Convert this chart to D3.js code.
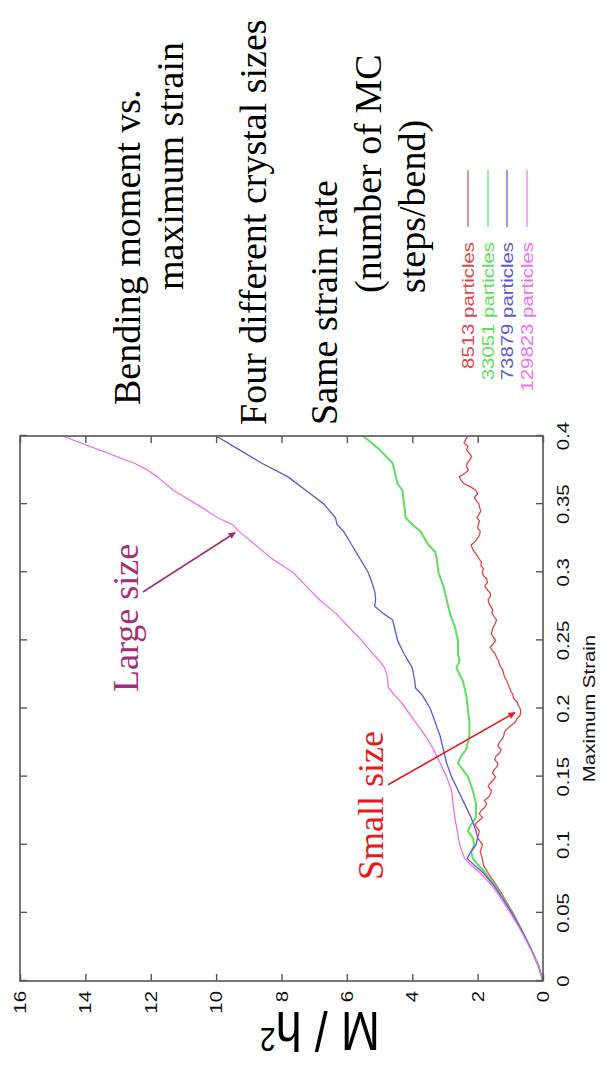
<!DOCTYPE html>
<html>
<head>
<meta charset="utf-8">
<script src="https://cdn.jsdelivr.net/npm/d3@7"></script>
<style>
  html, body { margin: 0; padding: 0; background: #fff; }
  svg { display: block; }
</style>
</head>
<body>
<svg id="slide" width="600" height="1067"></svg>
<script>
// ---- data: bending moment M/h^2 versus maximum strain, four crystal sizes ----
const seriesNames = ["8513 particles", "33051 particles", "73879 particles", "129823 particles"];
const seriesColors = ["#e04848", "#5ee05e", "#5858dc", "#f070f0"];

const strainTicks = [0, 0.05, 0.1, 0.15, 0.2, 0.25, 0.3, 0.35, 0.4];
const strainTickLabels = ["0", "0.05", "0.1", "0.15", "0.2", "0.25", "0.3", "0.35", "0.4"];
const momentTicks = [0, 2, 4, 6, 8, 10, 12, 14, 16];

// 8513 particles
const strain8513 = [0, 0.01, 0.02, 0.03, 0.04, 0.05, 0.06, 0.07, 0.08, 0.085, 0.09, 0.095, 0.1, 0.105, 0.11, 0.115,
  0.12, 0.1225, 0.125, 0.1275, 0.13, 0.1325, 0.135, 0.1375, 0.14, 0.1425, 0.145, 0.1475,
  0.15, 0.1525, 0.155, 0.1575, 0.16, 0.1625, 0.165, 0.1675, 0.17, 0.1725, 0.175, 0.1775,
  0.18, 0.1825, 0.185, 0.1875, 0.19, 0.1925, 0.195, 0.1975, 0.2, 0.2025, 0.205, 0.2075,
  0.21, 0.2125, 0.215, 0.2175, 0.22, 0.2225, 0.225, 0.2275, 0.23, 0.2325, 0.235, 0.2375,
  0.24, 0.2425, 0.245, 0.2475, 0.25, 0.2525, 0.255, 0.2575, 0.26, 0.2625, 0.265, 0.2675,
  0.27, 0.2725, 0.275, 0.2775, 0.28, 0.2825, 0.285, 0.2875, 0.29, 0.2925, 0.295, 0.2975,
  0.3, 0.3025, 0.305, 0.3075, 0.31, 0.3125, 0.315, 0.3175, 0.32, 0.3225, 0.325, 0.3275,
  0.33, 0.3325, 0.335, 0.3375, 0.34, 0.3425, 0.345, 0.3475, 0.35, 0.3525, 0.355, 0.3575,
  0.36, 0.3625, 0.365, 0.3675, 0.37, 0.3725, 0.375, 0.3775, 0.38, 0.3825, 0.385, 0.3875,
  0.39, 0.3925, 0.395, 0.3975, 0.4];
const moment8513 = [0, 0.12, 0.3, 0.5, 0.7, 0.92, 1.16, 1.42, 1.7, 1.82, 1.86, 1.92, 1.85, 2.0, 1.95, 2.08,
  1.85, 1.95, 1.9, 1.78, 1.72, 1.8, 1.66, 1.6, 1.58, 1.68, 1.62, 1.52,
  1.45, 1.55, 1.5, 1.4, 1.38, 1.48, 1.44, 1.32, 1.28, 1.38, 1.34, 1.25,
  1.2, 1.18, 1.1, 0.98, 0.85, 0.8, 0.7, 0.68, 0.7, 0.76, 0.8, 0.9,
  0.92, 0.98, 1.02, 1.06, 1.1, 1.16, 1.2, 1.22, 1.28, 1.34, 1.36, 1.42,
  1.46, 1.55, 1.62, 1.52, 1.45, 1.52, 1.58, 1.55, 1.52, 1.46, 1.42, 1.5,
  1.56, 1.54, 1.6, 1.66, 1.68, 1.6, 1.62, 1.72, 1.78, 1.7, 1.72, 1.82,
  1.86, 1.82, 1.9, 1.88, 1.96, 2.02, 2.1, 2.16, 2.2, 2.08, 2.0, 1.94,
  1.92, 2.0, 1.98, 1.94, 2.02, 1.96, 1.9, 1.94, 1.96, 2.04, 2.1, 2.0,
  2.05, 2.2, 2.42, 2.5, 2.56, 2.4, 2.28, 2.34, 2.32, 2.24, 2.18, 2.26,
  2.34, 2.3, 2.42, 2.36, 2.3];

// 33051 particles
const strain33051 = [0, 0.01, 0.02, 0.03, 0.04, 0.05, 0.06, 0.07, 0.08, 0.085, 0.09, 0.095, 0.1, 0.105, 0.11, 0.115,
  0.12, 0.13, 0.14, 0.15, 0.155, 0.16, 0.165, 0.17, 0.18, 0.19, 0.2, 0.21, 0.22, 0.225, 0.23, 0.235,
  0.24, 0.25, 0.26, 0.27, 0.28, 0.29, 0.3, 0.31, 0.315, 0.32, 0.33, 0.335, 0.34, 0.35, 0.36, 0.365,
  0.37, 0.375, 0.38, 0.39, 0.395, 0.4];
const moment33051 = [0, 0.12, 0.3, 0.5, 0.72, 0.95, 1.2, 1.47, 1.78, 1.98, 2.15, 2.2, 2.1, 2.15, 2.3, 2.2,
  2.05, 2.05, 2.15, 2.3, 2.45, 2.6, 2.5, 2.35, 2.25, 2.25, 2.3, 2.35, 2.45, 2.55, 2.65, 2.55,
  2.6, 2.6, 2.7, 2.85, 2.95, 3.05, 3.2, 3.25, 3.3, 3.5, 3.75, 4.0, 4.2, 4.25, 4.3, 4.45,
  4.5, 4.55, 4.6, 5.0, 5.25, 5.5];

// 73879 particles
const strain73879 = [0, 0.01, 0.02, 0.03, 0.04, 0.05, 0.06, 0.07, 0.08, 0.085, 0.09, 0.095, 0.1, 0.105, 0.11, 0.12,
  0.13, 0.14, 0.15, 0.16, 0.17, 0.18, 0.19, 0.2, 0.21, 0.215, 0.22, 0.23, 0.24, 0.25, 0.26, 0.265,
  0.27, 0.275, 0.28, 0.285, 0.29, 0.3, 0.31, 0.32, 0.33, 0.335, 0.34, 0.35, 0.36, 0.37, 0.38, 0.39, 0.4];
const moment73879 = [0, 0.12, 0.3, 0.5, 0.72, 0.96, 1.22, 1.5, 1.85, 2.1, 2.32, 2.2, 2.05, 2.0, 2.05, 2.2,
  2.4, 2.6, 2.8, 2.95, 3.05, 3.15, 3.3, 3.45, 3.7, 3.9, 3.92, 4.0, 4.25, 4.45, 4.55, 4.6,
  4.9, 5.15, 5.12, 5.14, 5.2, 5.35, 5.6, 5.85, 6.1, 6.3, 6.35, 6.7, 7.25, 7.8, 8.6, 9.3, 10.0];

// 129823 particles
const strain129823 = [0, 0.01, 0.02, 0.03, 0.04, 0.05, 0.06, 0.07, 0.08, 0.085, 0.09, 0.1, 0.11, 0.12, 0.13, 0.14,
  0.15, 0.16, 0.17, 0.18, 0.19, 0.2, 0.205, 0.21, 0.215, 0.22, 0.225, 0.23, 0.235, 0.24, 0.25, 0.26,
  0.27, 0.28, 0.29, 0.3, 0.31, 0.32, 0.33, 0.335, 0.34, 0.35, 0.36, 0.37, 0.375, 0.38, 0.39, 0.4];
const moment129823 = [0, 0.12, 0.3, 0.52, 0.75, 1.0, 1.27, 1.56, 1.95, 2.2, 2.4, 2.55, 2.62, 2.7, 2.75, 2.8,
  2.95, 3.15, 3.35, 3.6, 3.9, 4.2, 4.35, 4.55, 4.72, 4.75, 4.78, 4.85, 5.0, 5.2, 5.55, 5.95,
  6.35, 6.85, 7.25, 7.65, 8.3, 8.8, 9.3, 9.5, 9.95, 10.6, 11.3, 11.8, 12.1, 12.5, 13.6, 14.7];

const seriesStrain = [strain8513, strain33051, strain73879, strain129823];
const seriesMoment = [moment8513, moment33051, moment73879, moment129823];

// annotation arrows, in data units: [strain, moment] tail -> head
const largeArrow = [[0.2855, 12.24], [0.329, 9.42]];
const smallArrow = [[0.144, 4.74], [0.197, 0.86]];

// ---- layout (slide is drawn landscape, then turned a quarter turn) ----
const svg = d3.select("#slide");
svg.append("rect").attr("width", 600).attr("height", 1067).attr("fill", "#fff");
const slide = svg.append("g").attr("transform", "translate(0,1067) rotate(-90)");

const plot = { left: 86, right: 631, top: 20, bottom: 543 };
const x = d3.scaleLinear().domain([0, 0.4]).range([plot.left, plot.right]);
const y = d3.scaleLinear().domain([0, 16]).range([plot.bottom, plot.top]);
const stretch = 1.2;       // horizontal stretch of the plot's sans-serif text
const axisFont = "'Liberation Sans', Arial, Helvetica, sans-serif";
const serifFont = "'Liberation Serif', 'Times New Roman', serif";
const frameColor = "#555";

// curves
const line = d3.line().x(d => x(d[0])).y(d => y(d[1]));
const curves = slide.append("g").attr("fill", "none").attr("stroke-linejoin", "round");
seriesNames.forEach((name, i) => {
  const pts = seriesStrain[i].map((s, k) => [s, seriesMoment[i][k]]);
  curves.append("path")
    .attr("d", line(pts))
    .attr("stroke", seriesColors[i])
    .attr("stroke-width", i === 1 ? 2 : 1.3);
});

// ticks on all four sides, pointing inward
const tickLen = 7;
slide.append("g").attr("transform", `translate(0,${plot.bottom})`)
  .call(d3.axisBottom(x).tickValues(strainTicks).tickSizeInner(-tickLen).tickSizeOuter(0).tickFormat(""))
  .call(g => g.select(".domain").remove());
slide.append("g").attr("transform", `translate(0,${plot.top})`)
  .call(d3.axisTop(x).tickValues(strainTicks).tickSizeInner(-tickLen).tickSizeOuter(0).tickFormat(""))
  .call(g => g.select(".domain").remove());
slide.append("g").attr("transform", `translate(${plot.left},0)`)
  .call(d3.axisLeft(y).tickValues(momentTicks).tickSizeInner(-tickLen).tickSizeOuter(0).tickFormat(""))
  .call(g => g.select(".domain").remove());
slide.append("g").attr("transform", `translate(${plot.right},0)`)
  .call(d3.axisRight(y).tickValues(momentTicks).tickSizeInner(-tickLen).tickSizeOuter(0).tickFormat(""))
  .call(g => g.select(".domain").remove());
slide.selectAll(".tick line").attr("stroke", frameColor).attr("stroke-width", 1.4);

// frame
slide.append("rect")
  .attr("x", plot.left).attr("y", plot.top)
  .attr("width", plot.right - plot.left).attr("height", plot.bottom - plot.top)
  .attr("fill", "none").attr("stroke", frameColor).attr("stroke-width", 1.6);

// tick labels
slide.append("g").selectAll("text").data(strainTicks).join("text")
  .attr("transform", d => `translate(${x(d)},${plot.bottom + 26}) scale(${stretch},1)`)
  .attr("text-anchor", "middle")
  .attr("font-family", axisFont).attr("font-size", 17).attr("fill", "#111")
  .text((d, i) => strainTickLabels[i]);

slide.append("g").selectAll("text").data(momentTicks).join("text")
  .attr("transform", d => `translate(${plot.left - 10},${y(d) + 6}) scale(${stretch},1)`)
  .attr("text-anchor", "end")
  .attr("font-family", axisFont).attr("font-size", 17).attr("fill", "#111")
  .text(d => d);

// axis titles
slide.append("text")
  .attr("transform", `translate(${(plot.left + plot.right) / 2},${plot.bottom + 52}) scale(${stretch},1)`)
  .attr("text-anchor", "middle")
  .attr("font-family", axisFont).attr("font-size", 17).attr("fill", "#111")
  .text("Maximum Strain");

const yTitle = slide.append("text")
  .attr("transform", `translate(55,320) scale(${stretch},1) rotate(-90)`)
  .attr("text-anchor", "middle")
  .attr("font-family", axisFont).attr("font-size", 47).attr("fill", "#000");
yTitle.append("tspan").text("M / h");
yTitle.append("tspan").attr("font-size", 28).attr("dy", -13).text("2");

// legend
const legend = slide.append("g");
const legendRows = [468, 488, 507, 527];
seriesNames.forEach((name, i) => {
  legend.append("text")
    .attr("transform", `translate(825,${legendRows[i] + 6}) scale(${stretch},1)`)
    .attr("text-anchor", "end")
    .attr("font-family", axisFont).attr("font-size", 17).attr("fill", seriesColors[i])
    .text(name);
  legend.append("line")
    .attr("x1", 840).attr("x2", 897)
    .attr("y1", legendRows[i]).attr("y2", legendRows[i])
    .attr("stroke", seriesColors[i]).attr("stroke-width", 1.2);
});

// slide text
const notes = [
  { text: "Bending moment vs.", x: 662, y: 140 },
  { text: "maximum strain", x: 777, y: 183 },
  { text: "Four different crystal sizes", x: 642, y: 266 },
  { text: "Same strain rate", x: 642, y: 337 },
  { text: "(number of MC", x: 774, y: 381 },
  { text: "steps/bend)", x: 774, y: 425 }
];
slide.append("g").selectAll("text").data(notes).join("text")
  .attr("x", d => d.x).attr("y", d => d.y)
  .attr("font-family", serifFont).attr("font-size", 38).attr("fill", "#000")
  .text(d => d.text);

// annotations with arrows
const defs = svg.append("defs");
function arrowMarker(id, color) {
  defs.append("marker")
    .attr("id", id).attr("viewBox", "0 0 10 10")
    .attr("refX", 9).attr("refY", 5)
    .attr("markerWidth", 9).attr("markerHeight", 7)
    .attr("markerUnits", "userSpaceOnUse")
    .attr("orient", "auto")
    .append("path").attr("d", "M0,0 L10,5 L0,10 Z").attr("fill", color);
}
const largeColor = "#a12f78";
const smallColor = "#e8181e";
arrowMarker("head-large", largeColor);
arrowMarker("head-small", smallColor);

slide.append("line")
  .attr("x1", x(largeArrow[0][0])).attr("y1", y(largeArrow[0][1]))
  .attr("x2", x(largeArrow[1][0])).attr("y2", y(largeArrow[1][1]))
  .attr("stroke", largeColor).attr("stroke-width", 1.6)
  .attr("marker-end", "url(#head-large)");
slide.append("text")
  .attr("x", 375).attr("y", 138)
  .attr("font-family", serifFont).attr("font-size", 36).attr("fill", largeColor)
  .text("Large size");

slide.append("line")
  .attr("x1", x(smallArrow[0][0])).attr("y1", y(smallArrow[0][1]))
  .attr("x2", x(smallArrow[1][0])).attr("y2", y(smallArrow[1][1]))
  .attr("stroke", smallColor).attr("stroke-width", 1.6)
  .attr("marker-end", "url(#head-small)");
slide.append("text")
  .attr("x", 187).attr("y", 383)
  .attr("font-family", serifFont).attr("font-size", 36).attr("fill", smallColor)
  .text("Small size");
</script>
</body>
</html>
